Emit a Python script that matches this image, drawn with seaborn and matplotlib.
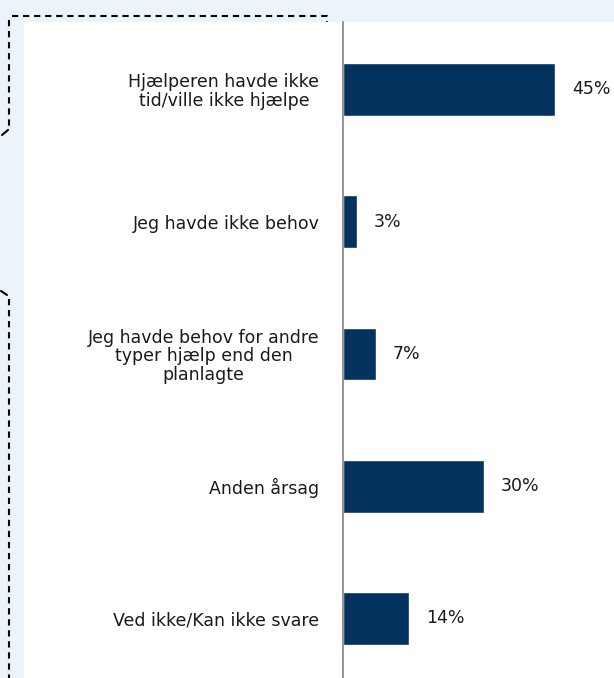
import numpy as np
import pandas as pd
import matplotlib
matplotlib.use("Agg")
import matplotlib.pyplot as plt
import seaborn as sns
from matplotlib.lines import Line2D
from matplotlib.patches import Rectangle

# data
categories = [
    "Hjælperen havde ikke\ntid/ville ikke hjælpe",
    "Jeg havde ikke behov",
    "Jeg havde behov for andre\ntyper hjælp end den\nplanlagte",
    "Anden årsag",
    "Ved ikke/Kan ikke svare",
]
values = [45, 3, 7, 30, 14]

bar_color = "#03325F"
bg_color = "#EBF4F8"

sns.set_style("white")
plt.rcParams['font.family'] = ['DejaVu Sans']

W, H = 614, 678
fig = plt.figure(figsize=(W / 100, H / 100), dpi=100, facecolor=bg_color)

# white panel behind the chart
fig.patches.append(Rectangle((24 / W, 0), 1 - 24 / W, (H - 22) / H,
                             transform=fig.transFigure, facecolor="white",
                             edgecolor="none", zorder=-5))

ax = fig.add_axes([343 / W, 0, 1 - 343 / W, (H - 22) / H])
ax.set_facecolor("white")

df = pd.DataFrame({"kategori": categories, "andel": values})
sns.barplot(data=df, x="andel", y="kategori", orient="h", color=bar_color,
            width=0.4, saturation=1, ax=ax)

ax.set_xlim(0, 57.5)
ax.set_ylim(4.45, -0.51)
ax.set_xlabel("")
ax.set_ylabel("")
ax.set_xticks([])

for i, v in enumerate(values):
    ax.annotate(f"{v}%", xy=(v, i), xytext=(12, 0), textcoords="offset points",
                va="center", ha="left", fontsize=12.5, color="#1a1a1a")

ax.tick_params(axis="y", length=0, pad=17, labelsize=12.5, labelcolor="#1a1a1a")
for lbl in ax.get_yticklabels():
    lbl.set_multialignment("center")
    lbl.set_linespacing(1.05)

for s in ["top", "right", "bottom"]:
    ax.spines[s].set_visible(False)
ax.spines["left"].set_color("#8c8c8c")
ax.spines["left"].set_linewidth(1.3)

# dashed bracket lines in the left margin
def px(x, y):
    return x / W, 1 - y / H

dash = dict(color="black", linewidth=1.5, linestyle=(0, (3, 2.3)),
            transform=fig.transFigure)
solid = dict(color="black", linewidth=1.5, transform=fig.transFigure)
xs, ys = zip(px(12, 16), px(327, 16), px(327, 22))
fig.lines.append(Line2D(xs, ys, **dash))
xs, ys = zip(px(9, 20), px(9, 127))
fig.lines.append(Line2D(xs, ys, **dash))
xs, ys = zip(px(8, 130), px(2, 135))
fig.lines.append(Line2D(xs, ys, **solid))
xs, ys = zip(px(1, 291), px(7, 295))
fig.lines.append(Line2D(xs, ys, **solid))
xs, ys = zip(px(9, 299), px(9, 678))
fig.lines.append(Line2D(xs, ys, **dash))

fig.savefig("out.png", dpi=100, facecolor=fig.get_facecolor())
